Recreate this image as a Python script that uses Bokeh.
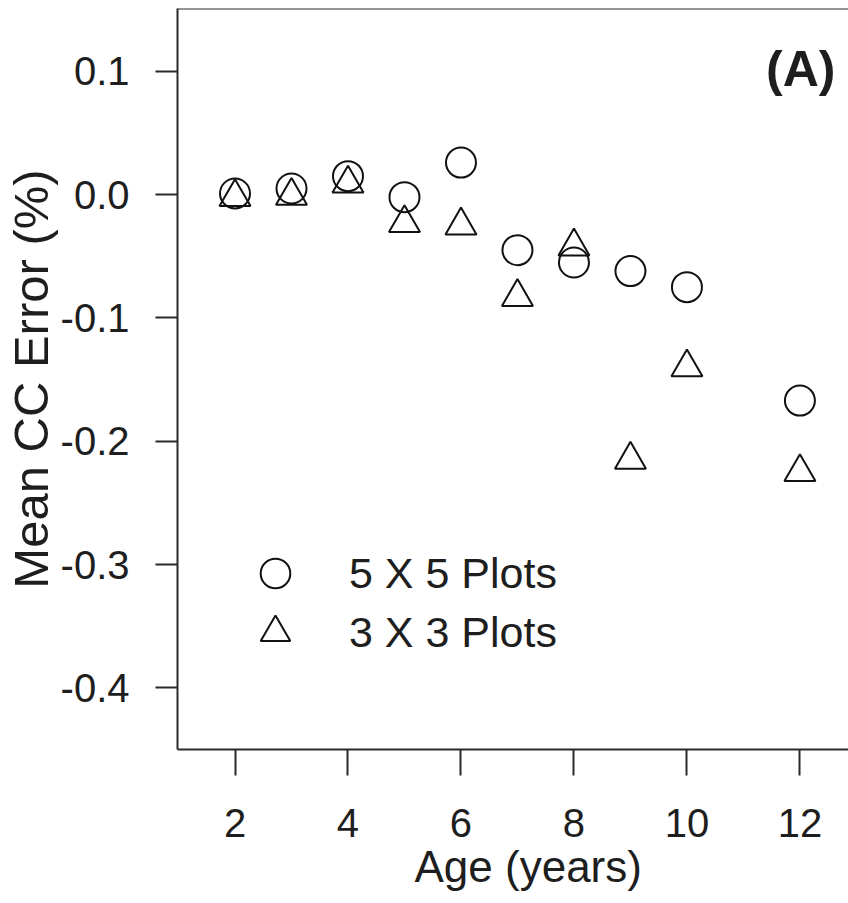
from bokeh.plotting import figure
from bokeh.models import (Range1d, FixedTicker, PrintfTickFormatter, Span, Label,
                          Legend, LegendItem, Title)
from bokeh.embed import file_html
from bokeh.resources import INLINE

# ---- data ----
ages = [2, 3, 4, 5, 6, 7, 8, 9, 10, 12]
cc_error_5x5 = [0.001, 0.005, 0.015, -0.002, 0.026, -0.045, -0.055, -0.062, -0.075, -0.167]
cc_error_3x3 = [-0.002, -0.001, 0.009, -0.023, -0.025, -0.083, -0.042, -0.215, -0.140, -0.225]
x_ticks = [2, 4, 6, 8, 10, 12]
y_ticks = [-0.4, -0.3, -0.2, -0.1, 0.0, 0.1]
series_labels = ["5 X 5 Plots", "3 X 3 Plots"]

FONT = "Liberation Sans"
INK = "#1e1e1e"
LINE = "#2a2a2a"

p = figure(width=848, height=903, output_backend="svg", toolbar_location=None,
           x_range=Range1d(0.982, 12.86), y_range=Range1d(-0.450, 0.151),
           min_border_left=175, min_border_right=0, min_border_top=8,
           min_border_bottom=154)
p.outline_line_color = None
p.grid.visible = False
p.background_fill_color = "white"
p.border_fill_color = "white"

# axes
p.xaxis.ticker = FixedTicker(ticks=x_ticks)
p.yaxis.ticker = FixedTicker(ticks=y_ticks)
p.yaxis.formatter = PrintfTickFormatter(format="%.1f")
for ax in (p.xaxis[0], p.yaxis[0]):
    ax.axis_line_color = LINE
    ax.axis_line_width = 2
    ax.major_tick_line_color = LINE
    ax.major_tick_line_width = 2
    ax.major_tick_in = 0
    ax.minor_tick_line_color = None
    ax.major_label_text_font = FONT
    ax.major_label_text_font_size = "40px"
    ax.major_label_text_color = INK
    ax.axis_label_text_font = FONT
    ax.axis_label_text_font_style = "normal"
    ax.axis_label_text_color = INK

p.xaxis.major_tick_out = 26
p.xaxis.major_label_standoff = 33

p.yaxis.major_tick_out = 22
p.yaxis.major_label_standoff = 26
p.yaxis.major_label_orientation = "horizontal"
p.yaxis.axis_label = "Mean CC Error (%)"
p.yaxis.axis_label_text_font_size = "49px"
p.yaxis.axis_label_standoff = 0

# x-axis title, below the tick labels
p.add_layout(Title(text="Age (years)", align="left", offset=237, standoff=0,
                   text_font=FONT, text_font_size="44px",
                   text_font_style="normal", text_color=INK), "below")

# top border of the box
p.add_layout(Span(location=0.151, dimension="width", line_color=LINE, line_width=2))

# data
r5 = p.scatter(ages, cc_error_5x5, marker="circle", size=30, fill_alpha=0,
               line_color="#111111", line_width=2)
r3 = p.scatter(ages, cc_error_3x3, marker="triangle", size=31, fill_alpha=0,
               line_color="#111111", line_width=2)

common = dict(orientation="vertical", glyph_width=74, glyph_height=74,
              label_standoff=37, label_text_font=FONT,
              label_text_font_size="43px", label_text_color=INK,
              label_text_baseline="middle", padding=0, margin=0,
              border_line_color=None, background_fill_alpha=0)
leg1 = Legend(items=[LegendItem(label=series_labels[0], renderers=[r5])],
              location=(61, 139), **common)
leg2 = Legend(items=[LegendItem(label=series_labels[1], renderers=[r3])],
              location=(61, 80), **common)
p.add_layout(leg1, "center")
p.add_layout(leg2, "center")

p.add_layout(Label(x=12.63, y=0.102, text="(A)", text_align="right",
                   text_baseline="middle", text_font=FONT,
                   text_font_size="50px", text_font_style="bold",
                   text_color=INK))

open("out.html", "w").write(file_html(p, INLINE))
